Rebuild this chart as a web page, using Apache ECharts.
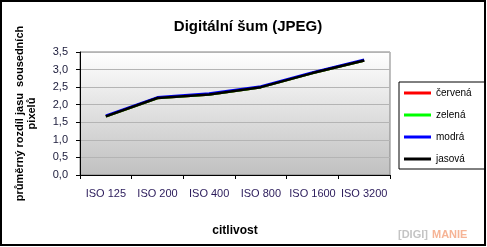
<!DOCTYPE html>
<html><head><meta charset="utf-8">
<script src="https://cdn.jsdelivr.net/npm/echarts@6/dist/echarts.min.js"></script>
<style>html,body{margin:0;padding:0;background:#fff}#c{width:487px;height:247px}</style>
</head><body><div id="c"></div>
<script>
const categories = ['ISO 125','ISO 200','ISO 400','ISO 800','ISO 1600','ISO 3200'];
const cervena = [1.67, 2.19, 2.29, 2.50, 2.90, 3.26];
const zelena  = [1.67, 2.19, 2.29, 2.50, 2.90, 3.26];
const modra   = [1.69, 2.21, 2.32, 2.52, 2.92, 3.28];
const jasova  = [1.67, 2.19, 2.29, 2.50, 2.90, 3.26];
const seriesNames = ['červená','zelená','modrá','jasová'];
const seriesColors = ['#ff0000','#00ff00','#0000ff','#000000'];
const seriesData = [cervena, zelena, modra, jasova];

const chart = echarts.init(document.getElementById('c'));
chart.setOption({
  animation:false,
  backgroundColor:'#fff',
  title:{text:'Digitální šum (JPEG)', left:243, top:14, textAlign:'center',
    textStyle:{fontFamily:'Liberation Sans', fontSize:15, fontWeight:'bold', color:'#000'}},
  grid:{left:80, top:52, width:310, height:123, show:true, borderColor:'#808080', borderWidth:1,
    backgroundColor:{type:'linear',x:0,y:0,x2:0,y2:1,colorStops:[{offset:0,color:'#ffffff'},{offset:1,color:'#c0c0c0'}]}},
  legend:{orient:'vertical', left:399, top:82, padding:[6,13,5,5], itemGap:12,
    borderColor:'#000', borderWidth:1, backgroundColor:'#fff',
    itemWidth:27, itemHeight:3, icon:'rect', itemTextGap:2,
    textStyle:{fontFamily:'Liberation Sans', fontSize:10, color:'#000'},
    data:seriesNames},
  xAxis:{type:'category', data:categories, boundaryGap:true,
    name:'citlivost', nameLocation:'middle', nameGap:50,
    nameTextStyle:{fontFamily:'Liberation Sans', fontSize:12, fontWeight:'bold', color:'#000'},
    axisLine:{lineStyle:{color:'#000', width:1}},
    axisTick:{show:true, alignWithLabel:false, length:4, lineStyle:{color:'#000'}},
    axisLabel:{fontFamily:'Liberation Sans', fontSize:11, color:'#2a1a5a', margin:13, interval:0}},
  yAxis:{type:'value', min:0, max:3.5, interval:0.5,
    name:'průměrný rozdíl jasu  sousedních\npixelů', nameLocation:'middle', nameGap:42, nameRotate:90,
    nameTextStyle:{fontFamily:'Liberation Sans', fontSize:11, fontWeight:'bold', color:'#000', lineHeight:12},
    axisLine:{show:true, lineStyle:{color:'#000', width:1}},
    axisTick:{show:true, length:4, lineStyle:{color:'#000'}},
    splitLine:{lineStyle:{color:'#b4b4b4', width:1}},
    axisLabel:{fontFamily:'Liberation Sans', fontSize:11, color:'#1a1a3a', margin:12,
      formatter:v=>v.toFixed(1).replace('.',',')}},
  series: seriesNames.map((n,i)=>({name:n, type:'line', data:seriesData[i], symbol:'none',
    lineStyle:{color:seriesColors[i], width:2.5}, itemStyle:{color:seriesColors[i]}, z:2+i})),
  graphic:[
    {type:'rect', shape:{x:1,y:1,width:484,height:244}, style:{fill:'none', stroke:'#000', lineWidth:2}, silent:true},
    {type:'text', left:398, top:229, style:{text:'[DIGI]', fill:'#c4c4c4', font:'bold 11px "Liberation Sans"'}},
    {type:'text', left:432, top:229, style:{text:'MANIE', fill:'#f6b496', font:'bold 11px "Liberation Sans"'}}
  ]
});
</script></body></html>
